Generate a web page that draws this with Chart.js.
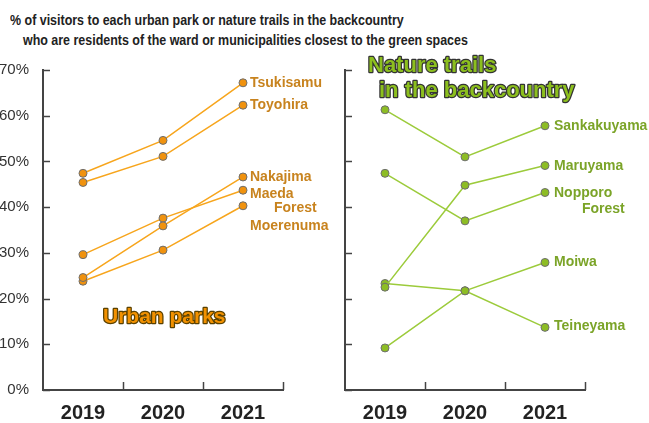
<!DOCTYPE html>
<html>
<head>
<meta charset="utf-8">
<script src="https://cdn.jsdelivr.net/npm/chart.js@4/dist/chart.umd.min.js"></script>
<style>
  body { margin: 0; background: #fff; }
  #wrap { position: relative; width: 649px; height: 423px; overflow: hidden; }
  .title { position: absolute; font: bold 15px "Liberation Sans", Arial, sans-serif; color: #222;
           white-space: nowrap; transform: scaleX(0.83); transform-origin: left center; }
  canvas { position: absolute; top: 0; }
</style>
</head>
<body>
<div id="wrap">
  <div class="title" style="left:10px; top:11px;">% of visitors to each urban park or nature trails in the backcountry</div>
  <div class="title" style="left:23px; top:31px;">who are residents of the ward or municipalities closest to the green spaces</div>
  <canvas id="urbanChart" width="340" height="423" style="left:0"></canvas>
  <canvas id="natureChart" width="349" height="423" style="left:300px"></canvas>
</div>
<script>
// years on the x axis
const years = ['2019', '2020', '2021'];
const yTicks = [0, 10, 20, 30, 40, 50, 60, 70];

// urban parks (% of visitors living in closest ward)
const tsukisamu = [47.4, 54.6, 67.2];
const toyohira = [45.4, 51.1, 62.3];
const nakajima = [24.6, 35.9, 46.6];
const maeda = [29.6, 37.6, 43.7];
const moerenuma = [23.8, 30.6, 40.3];

// nature trails in the backcountry
const sankakuyama = [61.3, 51.0, 57.8];
const maruyama = [22.5, 44.8, 49.1];
const nopporo = [47.4, 37.0, 43.2];
const moiwa = [9.2, 21.7, 27.9];
const teineyama = [23.3, 21.7, 13.7];

const FONT = '"Liberation Sans", Arial, sans-serif';

// draws series names next to the last point, inward ticks and the group title
const decorPlugin = {
  id: 'decor',
  afterDatasetsDraw(chart, args, opts) {
    const c = chart.ctx;
    const area = chart.chartArea;
    const x = chart.scales.x, y = chart.scales.y;
    c.save();
    // inward tick marks
    c.strokeStyle = '#444';
    c.lineWidth = 1.5;
    yTicks.forEach(v => {
      const py = Math.round(y.getPixelForValue(v)) + 0.5;
      c.beginPath(); c.moveTo(area.left, py); c.lineTo(area.left + 7, py); c.stroke();
    });
    const half = (x.getPixelForValue(1) - x.getPixelForValue(0)) / 2;
    years.forEach((yr, i) => {
      const px = Math.round(x.getPixelForValue(i) + half) + 0.5;
      c.beginPath(); c.moveTo(px, area.bottom); c.lineTo(px, area.bottom - 8); c.stroke();
    });
    // series labels
    c.font = 'bold 14px ' + FONT;
    c.fillStyle = opts.labelColor;
    c.textBaseline = 'middle';
    chart.data.datasets.forEach((ds, i) => {
      const meta = chart.getDatasetMeta(i);
      const pt = meta.data[meta.data.length - 1];
      ds.nameParts.forEach(p => c.fillText(p[0], pt.x + p[1], pt.y + p[2]));
    });
    // group title with outline
    c.font = opts.groupFont;
    c.lineJoin = 'round';
    c.lineWidth = 2.5;
    c.strokeStyle = opts.groupStroke;
    c.fillStyle = opts.groupFill;
    opts.group.forEach(g => {
      c.strokeText(g[0], g[1], g[2]);
      c.fillText(g[0], g[1], g[2]);
    });
    c.restore();
  }
};

function makeSet(data, color, fill, parts) {
  return {
    data: data,
    borderColor: color,
    borderWidth: 1.5,
    pointRadius: 4,
    pointBackgroundColor: fill,
    pointBorderColor: '#6e6e6e',
    pointBorderWidth: 1,
    tension: 0,
    nameParts: parts
  };
}

function makeOptions(showY, rightPad, decor) {
  return {
    responsive: false,
    animation: false,
    layout: { padding: { top: 70, right: rightPad, left: 0, bottom: 0 } },
    plugins: { legend: { display: false }, tooltip: { enabled: false }, decor: decor },
    scales: {
      x: {
        offset: true,
        grid: { display: false },
        border: { color: '#444', width: 2 },
        ticks: { color: '#222', font: { family: FONT, size: 20, weight: 'bold' }, padding: 3, maxRotation: 0 },
        afterFit: s => { s.height = 33; }
      },
      y: {
        min: 0, max: 70,
        grid: { display: false },
        border: { color: '#444', width: 2 },
        ticks: {
          display: showY, stepSize: 10, padding: 6, color: '#333',
          font: { family: FONT, size: 15 },
          callback: v => v + '%'
        },
        afterFit: s => { s.width = showY ? 43 : 45; }
      }
    }
  };
}

const orangeLine = '#f7a51c', orangeDot = '#f0920e';
new Chart(document.getElementById('urbanChart'), {
  type: 'line',
  data: {
    labels: years,
    datasets: [
      makeSet(tsukisamu, orangeLine, orangeDot, [['Tsukisamu', 7, 0]]),
      makeSet(toyohira, orangeLine, orangeDot, [['Toyohira', 7, 0]]),
      makeSet(nakajima, orangeLine, orangeDot, [['Nakajima', 7, 0]]),
      makeSet(maeda, orangeLine, orangeDot, [['Maeda', 7, 4]]),
      makeSet(moerenuma, orangeLine, orangeDot, [['Forest', 31, 2], ['Moerenuma', 7, 20]])
    ]
  },
  options: makeOptions(true, 57, {
    labelColor: '#c8831e',
    groupFont: 'bold 21px ' + FONT,
    groupFill: '#f29100',
    groupStroke: '#5a4100',
    group: [['Urban parks', 103, 317]]
  }),
  plugins: [decorPlugin]
});

const greenLine = '#9ccb3b', greenDot = '#8dbd24';
new Chart(document.getElementById('natureChart'), {
  type: 'line',
  data: {
    labels: years,
    datasets: [
      makeSet(sankakuyama, greenLine, greenDot, [['Sankakuyama', 9, 0]]),
      makeSet(maruyama, greenLine, greenDot, [['Maruyama', 9, 1]]),
      makeSet(nopporo, greenLine, greenDot, [['Nopporo', 9, 1], ['Forest', 37, 17]]),
      makeSet(moiwa, greenLine, greenDot, [['Moiwa', 9, 0]]),
      makeSet(teineyama, greenLine, greenDot, [['Teineyama', 9, -1]])
    ]
  },
  options: makeOptions(false, 64, {
    labelColor: '#7ba428',
    groupFont: 'bold 22px ' + FONT,
    groupFill: '#8cbf1e',
    groupStroke: '#333',
    group: [['Nature trails', 68, 66], ['in the backcountry', 79, 91]]
  }),
  plugins: [decorPlugin]
});
</script>
</body>
</html>
